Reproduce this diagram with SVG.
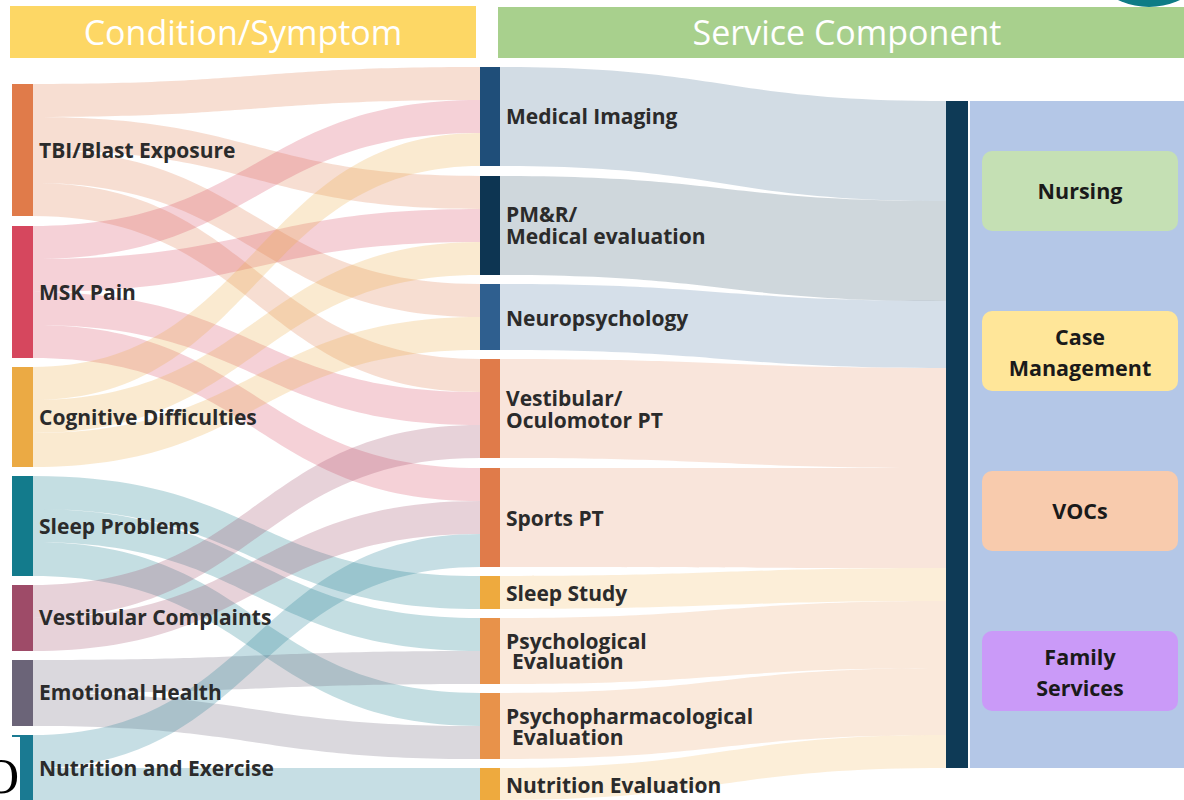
<svg xmlns="http://www.w3.org/2000/svg" width="1184" height="800" viewBox="0 0 1184 800">
<style>
.hdr{font-family:"Open Sans","Liberation Sans",sans-serif;font-size:34px;fill:#ffffff;text-anchor:middle;font-weight:400}
.lbl{font-family:"Open Sans","Liberation Sans",sans-serif;font-size:21px;font-weight:700;fill:#2b2b2b}
.box{font-family:"Open Sans","Liberation Sans",sans-serif;font-size:21.5px;font-weight:700;fill:#1a1a1a;text-anchor:middle}
.lk{fill-opacity:0.25;stroke:none}
.rk{fill-opacity:0.2;stroke:none}
</style>
<rect width="1184" height="800" fill="#ffffff"/>
<!-- headers -->
<g id="header-left"><rect x="10" y="6" width="466" height="52" fill="#FDD765"/><text class="hdr" x="243" y="45">Condition/Symptom</text></g>
<g id="header-right"><rect x="498" y="7" width="686" height="51" fill="#A8D08D"/><text class="hdr" x="847" y="45">Service Component</text></g>
<circle cx="1149" cy="-65" r="72" fill="#0E7C86"/>

<!-- connectors -->
<g id="connectors">
<g id="left-links">
<path class="lk" fill="#E07B4A" d="M33,84 C256.5,84 256.5,67 480,67 L480,100 C256.5,100 256.5,117 33,117 Z"/>
<path class="lk" fill="#E07B4A" d="M33,117 C256.5,117 256.5,176 480,176 L480,209 C256.5,209 256.5,150 33,150 Z"/>
<path class="lk" fill="#E07B4A" d="M33,150 C256.5,150 256.5,284 480,284 L480,317 C256.5,317 256.5,183 33,183 Z"/>
<path class="lk" fill="#E07B4A" d="M33,183 C256.5,183 256.5,359 480,359 L480,392 C256.5,392 256.5,216 33,216 Z"/>
<path class="lk" fill="#D6475E" d="M33,226 C256.5,226 256.5,100 480,100 L480,133 C256.5,133 256.5,259 33,259 Z"/>
<path class="lk" fill="#D6475E" d="M33,259 C256.5,259 256.5,209 480,209 L480,242 C256.5,242 256.5,292 33,292 Z"/>
<path class="lk" fill="#D6475E" d="M33,292 C256.5,292 256.5,392 480,392 L480,425 C256.5,425 256.5,325 33,325 Z"/>
<path class="lk" fill="#D6475E" d="M33,325 C256.5,325 256.5,468 480,468 L480,501 C256.5,501 256.5,358 33,358 Z"/>
<path class="lk" fill="#EBAA44" d="M33,367 C256.5,367 256.5,133 480,133 L480,166 C256.5,166 256.5,400 33,400 Z"/>
<path class="lk" fill="#EBAA44" d="M33,400 C256.5,400 256.5,242 480,242 L480,275 C256.5,275 256.5,433 33,433 Z"/>
<path class="lk" fill="#EBAA44" d="M33,433 C256.5,433 256.5,317 480,317 L480,350 C256.5,350 256.5,467 33,467 Z"/>
<path class="lk" fill="#137B8C" d="M33,476 C256.5,476 256.5,576 480,576 L480,609 C256.5,609 256.5,509 33,509 Z"/>
<path class="lk" fill="#137B8C" d="M33,509 C256.5,509 256.5,618 480,618 L480,651 C256.5,651 256.5,542 33,542 Z"/>
<path class="lk" fill="#137B8C" d="M33,542 C256.5,542 256.5,693 480,693 L480,726 C256.5,726 256.5,576 33,576 Z"/>
<path class="lk" fill="#9E4B68" d="M33,585 C256.5,585 256.5,425 480,425 L480,458 C256.5,458 256.5,618 33,618 Z"/>
<path class="lk" fill="#9E4B68" d="M33,618 C256.5,618 256.5,501 480,501 L480,534 C256.5,534 256.5,651 33,651 Z"/>
<path class="lk" fill="#6B6478" d="M33,660 C256.5,660 256.5,651 480,651 L480,684 C256.5,684 256.5,693 33,693 Z"/>
<path class="lk" fill="#6B6478" d="M33,693 C256.5,693 256.5,726 480,726 L480,759 C256.5,759 256.5,726 33,726 Z"/>
<path class="lk" fill="#1A7A92" d="M33,735 C256.5,735 256.5,534 480,534 L480,567 C256.5,567 256.5,768 33,768 Z"/>
<path class="lk" fill="#1A7A92" d="M33,768 C256.5,768 256.5,768 480,768 L480,800 C256.5,800 256.5,800 33,800 Z"/>
</g>
<g id="right-links">
<path class="rk" fill="#1F4E79" d="M500,67 C723,67 723,101 946,101 L946,201 C723,201 723,166 500,166 Z"/>
<path class="rk" fill="#0D3552" d="M500,176 C723,176 723,201 946,201 L946,301 C723,301 723,275 500,275 Z"/>
<path class="rk" fill="#2F5F8F" d="M500,284 C723,284 723,301 946,301 L946,368 C723,368 723,350 500,350 Z"/>
<path class="rk" fill="#E07B4A" d="M500,359 C723,359 723,368 946,368 L946,468 C723,468 723,458 500,458 Z"/>
<path class="rk" fill="#E07B4A" d="M500,468 C723,468 723,468 946,468 L946,568 C723,568 723,567 500,567 Z"/>
<path class="rk" fill="#EEAA3E" d="M500,576 C723,576 723,568 946,568 L946,601 C723,601 723,609 500,609 Z"/>
<path class="rk" fill="#E8924A" d="M500,618 C723,618 723,601 946,601 L946,668 C723,668 723,684 500,684 Z"/>
<path class="rk" fill="#E8924A" d="M500,693 C723,693 723,668 946,668 L946,735 C723,735 723,759 500,759 Z"/>
<path class="rk" fill="#EEAA3E" d="M500,768 C723,768 723,735 946,735 L946,768 C723,768 723,800 500,800 Z"/>
</g>
</g>

<!-- left nodes -->
<g id="n-tbi"><rect x="12" y="84" width="21" height="132" fill="#E07B4A"/><text class="lbl" x="39" y="158">TBI/Blast Exposure</text></g>
<g id="n-msk"><rect x="12" y="226" width="21" height="132" fill="#D6475E"/><text class="lbl" x="39" y="300">MSK Pain</text></g>
<g id="n-cog"><rect x="12" y="367" width="21" height="100" fill="#EBAA44"/><text class="lbl" x="39" y="425">Cognitive Difficulties</text></g>
<g id="n-sleep"><rect x="12" y="476" width="21" height="100" fill="#137B8C"/><text class="lbl" x="39" y="534">Sleep Problems</text></g>
<g id="n-vest"><rect x="12" y="585" width="21" height="66" fill="#9E4B68"/><text class="lbl" x="39" y="625">Vestibular Complaints</text></g>
<g id="n-emo"><rect x="12" y="660" width="21" height="66" fill="#6B6478"/><text class="lbl" x="39" y="700">Emotional Health</text></g>
<g id="n-nut"><rect x="12" y="735" width="21" height="65" fill="#1A7A92"/><text class="lbl" x="39" y="776">Nutrition and Exercise</text></g>

<!-- middle nodes -->
<g id="n-mi"><rect x="480" y="67" width="20" height="99" fill="#1F4E79"/><text class="lbl" x="506" y="124">Medical Imaging</text></g>
<g id="n-pmr"><rect x="480" y="176" width="20" height="99" fill="#0D3552"/><text class="lbl" x="506" y="222">PM&amp;R/</text><text class="lbl" x="506" y="244">Medical evaluation</text></g>
<g id="n-neuro"><rect x="480" y="284" width="20" height="66" fill="#2F5F8F"/><text class="lbl" x="506" y="326">Neuropsychology</text></g>
<g id="n-vpt"><rect x="480" y="359" width="20" height="99" fill="#E07B4A"/><text class="lbl" x="506" y="406">Vestibular/</text><text class="lbl" x="506" y="428">Oculomotor PT</text></g>
<g id="n-spt"><rect x="480" y="468" width="20" height="99" fill="#E07B4A"/><text class="lbl" x="506" y="526">Sports PT</text></g>
<g id="n-ss"><rect x="480" y="576" width="20" height="33" fill="#EEAA3E"/><text class="lbl" x="506" y="601">Sleep Study</text></g>
<g id="n-pe"><rect x="480" y="618" width="20" height="66" fill="#E8924A"/><text class="lbl" x="506" y="649">Psychological</text><text class="lbl" x="512" y="669">Evaluation</text></g>
<g id="n-ppe"><rect x="480" y="693" width="20" height="66" fill="#E8924A"/><text class="lbl" x="506" y="724">Psychopharmacological</text><text class="lbl" x="512" y="745">Evaluation</text></g>
<g id="n-ne"><rect x="480" y="768" width="20" height="32" fill="#EEAA3E"/><text class="lbl" x="506" y="793">Nutrition Evaluation</text></g>

<!-- right side -->
<g id="n-bar"><rect x="946" y="101" width="22" height="667" fill="#0E3A56"/></g>
<g id="n-panel"><rect x="970" y="101" width="214" height="667" fill="#B4C7E7"/></g>
<g id="n-nursing"><rect x="982" y="151" width="196" height="80" rx="10" fill="#C5E0B4"/><text class="box" x="1080" y="199">Nursing</text></g>
<g id="n-case"><rect x="982" y="311" width="196" height="80" rx="10" fill="#FFE699"/><text class="box" x="1080" y="345">Case</text><text class="box" x="1080" y="376">Management</text></g>
<g id="n-vocs"><rect x="982" y="471" width="196" height="80" rx="10" fill="#F8CBAD"/><text class="box" x="1080" y="519">VOCs</text></g>
<g id="n-family"><rect x="982" y="631" width="196" height="80" rx="10" fill="#CA9AF8"/><text class="box" x="1080" y="665">Family</text><text class="box" x="1080" y="696">Services</text></g>

<!-- stray corner fragment -->
<rect x="0" y="737" width="20" height="63" fill="#ffffff"/>
<text x="-17" y="793" font-family="Liberation Serif, serif" font-size="50" fill="#000000">O</text>
</svg>
